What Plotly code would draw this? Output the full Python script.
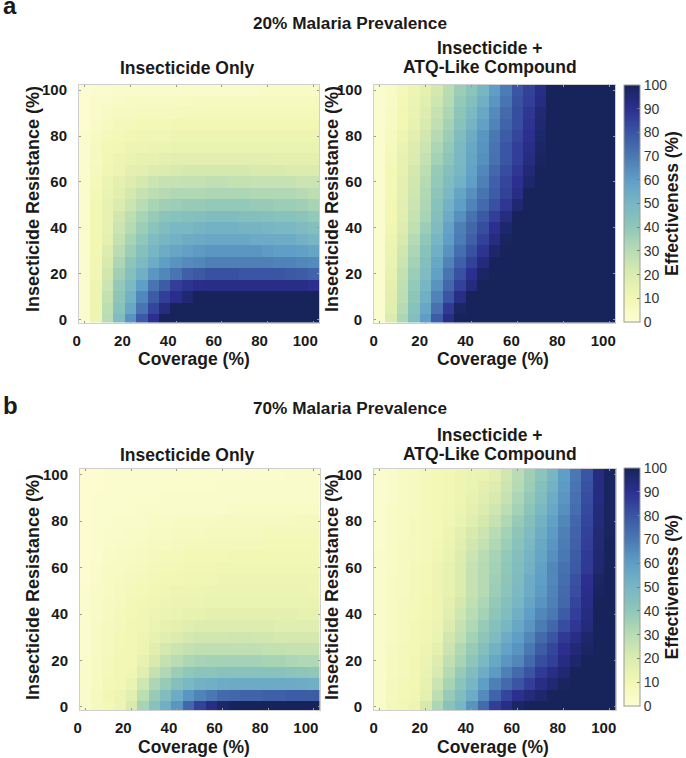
import plotly.graph_objects as go

W, H = 686, 758
coverage = list(range(0, 105, 5))
resistance = list(range(0, 105, 5))
tick_vals = [0, 20, 40, 60, 80, 100]
cbar_ticks = list(range(0, 110, 10))

# rows run from resistance 0 (first) to resistance 100 (last); columns are coverage 0..100
only_20 = [
 [2,12,30,46,63,79,90,100,100,100,100,100,100,100,100,100,100,100,100,100,100],
 [2,12,29,43,56,71,84,93,100,100,100,100,100,100,100,100,100,100,100,100,100],
 [2,12,27,41,52,66,78,86,91,96,100,100,100,100,100,100,100,100,100,100,100],
 [2,12,25,39,48,60,71,78,86,89,91,92,92,92,92,92,92,92,92,92,90],
 [2,11,23,36,44,53,62,66,71,77,79,81,81,81,80,80,80,80,79,78,76],
 [2,11,21,33,41,48,54,60,63,65,66,68,68,68,68,68,68,67,67,66,65],
 [2,10,19,30,37,44,50,54,57,59,61,62,62,62,62,62,61,60,60,59,57],
 [2,10,16,27,34,40,47,50,52,54,55,56,56,56,56,55,55,54,54,52,50],
 [2,10,15,25,31,37,42,46,49,49,51,52,52,52,51,51,50,49,49,47,45],
 [2,10,15,23,29,34,38,42,43,44,45,46,46,46,45,45,44,43,43,42,39],
 [2,10,15,20,25,30,34,36,37,38,38,39,39,39,39,38,38,37,37,36,34],
 [2,9,14,18,22,26,29,31,32,32,32,33,33,33,33,32,32,32,32,31,29],
 [2,8,13,16,19,22,25,26,26,27,27,28,28,27,27,26,26,26,26,25,25],
 [2,7,11,13,16,17,19,20,21,22,22,22,22,22,22,21,21,21,20,20,20],
 [2,6,10,12,14,15,15,16,17,17,17,17,17,17,17,17,17,16,16,16,16],
 [2,6,9,10,12,12,13,13,14,14,14,14,14,14,14,14,14,14,14,14,14],
 [2,5,8,9,10,11,11,11,12,12,12,12,12,12,12,12,12,12,12,12,12],
 [1,4,6,8,8,9,9,9,10,10,10,10,10,10,10,10,10,10,10,10,10],
 [1,3,5,6,6,7,7,7,7,8,8,8,8,8,8,8,8,8,8,8,8],
 [1,3,3,4,5,5,5,5,5,5,6,6,6,6,6,6,6,6,6,6,6],
 [1,2,2,3,3,3,3,3,3,3,3,3,3,3,3,3,4,4,4,4,4],
]
atq_20 = [
 [2,20,33,45,60,78,92,100,100,100,100,100,100,100,100,100,100,100,100,100,100],
 [2,18,31,43,56,72,87,98,100,100,100,100,100,100,100,100,100,100,100,100,100],
 [2,17,29,41,53,67,80,92,100,100,100,100,100,100,100,100,100,100,100,100,100],
 [2,16,28,39,50,63,75,85,94,100,100,100,100,100,100,100,100,100,100,100,100],
 [2,15,27,37,47,59,71,81,90,98,100,100,100,100,100,100,100,100,100,100,100],
 [2,14,25,35,45,56,67,77,85,94,100,100,100,100,100,100,100,100,100,100,100],
 [2,13,23,33,43,53,63,73,81,89,97,100,100,100,100,100,100,100,100,100,100],
 [2,12,21,31,40,50,60,69,77,85,93,99,100,100,100,100,100,100,100,100,100],
 [2,11,19,28,37,47,58,68,75,82,90,97,100,100,100,100,100,100,100,100,100],
 [2,10,18,26,34,45,55,64,72,79,86,93,100,100,100,100,100,100,100,100,100],
 [2,10,17,25,33,43,52,60,67,74,81,88,96,100,100,100,100,100,100,100,100],
 [2,9,16,24,32,41,49,57,64,71,78,85,92,100,100,100,100,100,100,100,100],
 [2,9,16,23,31,39,46,52,60,68,77,84,90,97,100,100,100,100,100,100,100],
 [2,9,15,22,29,38,44,50,58,66,75,82,88,95,100,100,100,100,100,100,100],
 [2,8,15,20,27,35,41,49,57,64,72,80,86,93,99,100,100,100,100,100,100],
 [2,7,14,19,25,33,39,48,56,63,71,80,86,92,98,100,100,100,100,100,100],
 [2,6,12,17,23,31,37,46,54,62,70,78,84,90,97,100,100,100,100,100,100],
 [2,5,10,15,21,28,35,43,51,59,67,76,82,89,96,100,100,100,100,100,100],
 [2,5,10,14,19,26,33,41,48,56,65,74,82,88,95,100,100,100,100,100,100],
 [2,4,9,13,18,24,31,39,45,53,62,71,81,86,93,100,100,100,100,100,100],
 [2,4,8,12,16,22,30,37,42,50,60,69,80,85,92,100,100,100,100,100,100],
]
only_70 = [
 [3,7,9,12,21,34,43,53,62,75,85,92,97,100,100,100,100,100,100,100,100],
 [3,7,10,12,17,29,38,46,54,62,67,70,74,75,76,76,77,77,78,78,78],
 [3,6,9,10,14,24,33,38,45,49,52,53,54,55,55,55,55,55,55,54,53],
 [3,6,8,10,11,18,27,32,37,40,42,42,43,43,43,43,43,43,42,41,40],
 [3,6,8,10,10,15,21,27,30,33,34,35,35,35,35,35,34,34,33,32,32],
 [2,5,7,9,10,12,18,22,25,27,28,28,28,28,28,28,27,27,26,26,26],
 [2,5,7,9,10,12,15,18,20,22,23,23,23,24,24,23,23,22,22,22,22],
 [2,5,7,8,10,11,13,15,16,18,19,19,19,19,19,19,19,18,18,18,18],
 [2,4,6,8,9,11,12,13,14,15,15,16,16,16,16,16,16,16,16,15,15],
 [2,4,6,7,9,10,11,12,13,13,13,14,14,14,14,14,14,14,14,14,14],
 [2,4,5,7,8,9,10,11,12,12,12,13,13,13,13,13,13,13,13,13,12],
 [1,3,5,6,7,8,9,10,10,11,11,11,12,12,12,12,12,12,12,12,12],
 [1,3,5,5,6,7,8,9,9,10,10,10,11,11,11,11,11,11,11,11,11],
 [1,2,4,5,5,6,7,8,8,9,9,9,9,10,10,10,10,10,10,10,10],
 [1,2,3,4,4,5,6,6,7,8,8,8,8,8,8,8,9,9,9,9,9],
 [1,2,3,3,4,4,5,5,6,6,6,7,7,7,7,7,8,8,8,8,8],
 [1,2,2,3,3,3,4,4,5,5,5,5,6,6,6,6,6,6,6,7,7],
 [1,2,2,2,2,3,3,3,3,3,3,3,3,4,4,4,4,4,4,4,4],
 [1,2,2,2,2,2,2,3,3,3,3,3,3,3,3,3,3,3,3,3,3],
 [1,1,2,2,2,2,2,2,2,2,2,2,3,3,3,3,3,3,3,3,3],
 [1,1,2,2,2,2,2,2,2,2,2,2,2,2,2,2,2,2,3,3,3],
]
atq_70 = [
 [3,8,10,12,22,33,43,50,63,74,86,92,98,100,100,100,100,100,100,100,100],
 [3,7,9,11,16,29,38,46,54,65,76,84,90,94,97,100,100,100,100,100,100],
 [3,7,9,10,15,25,34,42,50,60,68,74,80,86,92,96,99,100,100,100,100],
 [3,6,8,10,14,21,31,38,46,54,61,68,74,80,87,92,96,100,100,100,100],
 [3,6,8,10,13,19,28,34,41,49,56,62,66,74,82,86,93,97,100,100,100],
 [3,6,8,9,12,16,25,32,38,45,52,58,63,70,78,84,90,95,98,100,100],
 [3,5,7,9,11,14,23,28,35,41,47,54,60,66,74,80,87,92,97,100,100],
 [3,5,7,9,11,13,20,26,32,38,44,50,56,62,69,75,82,88,94,100,100],
 [3,5,7,8,10,12,18,24,30,35,41,46,53,60,66,70,78,86,93,100,100],
 [3,5,7,8,10,12,16,22,28,33,39,44,50,57,63,68,75,84,92,100,100],
 [3,5,6,8,9,12,15,20,26,31,37,42,48,55,61,67,74,82,91,99,100],
 [3,5,6,8,9,12,15,20,26,31,36,41,47,54,60,66,73,81,90,98,100],
 [3,4,6,8,9,12,15,20,26,31,35,40,46,52,59,66,72,79,87,96,100],
 [3,4,6,7,8,11,14,19,25,30,34,39,45,51,57,64,70,78,87,96,100],
 [2,4,6,7,8,10,13,18,23,27,32,37,43,49,56,62,69,77,86,95,100],
 [2,4,5,7,8,9,12,16,21,25,30,35,41,47,54,61,68,76,85,95,99],
 [2,4,5,7,8,9,11,14,18,22,26,32,38,45,52,59,66,75,84,94,99],
 [2,4,5,6,8,9,11,13,16,20,24,29,35,42,49,56,64,73,83,94,99],
 [2,3,5,6,8,9,10,12,15,18,21,26,33,39,46,54,62,72,82,93,99],
 [2,3,5,6,8,9,10,12,14,16,19,25,31,37,44,52,61,71,81,93,99],
 [2,3,5,6,8,9,10,12,13,14,17,23,30,36,42,50,60,70,80,93,99],
]

scale = [[0.0,"#fdfdd3"],[0.1,"#f2f7b4"],[0.2,"#dcecae"],[0.3,"#b9dcb4"],[0.4,"#8fc7b8"],
         [0.5,"#78b6c4"],[0.6,"#5f9ec6"],[0.7,"#4a78b2"],[0.8,"#3a55a3"],[0.9,"#2c2f8f"],[1.0,"#17245b"]]

FONT = "Liberation Sans, Arial, sans-serif"
INK = "#1a1a1a"

def fx(p): return p / W
def fy(p): return 1 - p / H

# pixel frames: left, right, top, bottom
panels = [
    (only_20, 79.0, 319.0, 84.5, 322.5, "x", "y", -8),
    (atq_20, 374.0, 615.0, 84.5, 322.5, "x2", "y2", -6),
    (only_70, 80.0, 319.5, 469.0, 710.0, "x3", "y3", -8),
    (atq_70, 374.0, 615.5, 469.0, 710.0, "x4", "y4", -6),
]
colorbars = {1: (85.0, 322.0), 3: (468.0, 706.0)}

fig = go.Figure()
layout = {}
for i, (z, l, r, t, b, xa, ya, shift) in enumerate(panels):
    trace = dict(x=coverage, y=resistance, z=z, xaxis=xa, yaxis=ya, zmin=0, zmax=100,
                 colorscale=scale, showscale=False, hoverongaps=False)
    if i in colorbars:
        ct, cb = colorbars[i]
        trace["showscale"] = True
        trace["colorbar"] = dict(
            x=fx(624), xanchor="left", xref="paper", y=fy(cb), yanchor="bottom", yref="paper",
            len=(cb - ct) / H, lenmode="fraction", thickness=15.5, thicknessmode="pixels",
            outlinecolor="#9a9a9a", outlinewidth=1, borderwidth=0, xpad=0, ypad=0,
            tickvals=cbar_ticks, ticks="inside", ticklen=3, tickcolor="#777777", tickwidth=1,
            tickfont=dict(family=FONT, size=14, color="#333333"),
            title=dict(text="Effectiveness (%)", side="right",
                       font=dict(family=FONT, size=17.5, color=INK, weight="bold")),
        )
    fig.add_trace(go.Heatmap(**trace))
    xkey = "xaxis" + xa[1:]
    ykey = "yaxis" + ya[1:]
    axis_common = dict(showgrid=False, zeroline=False, showline=True, linecolor="#cfcfcf", linewidth=1,
                       mirror="ticks", ticks="inside", ticklen=2, tickcolor="#999999", tickwidth=1,
                       tickvals=tick_vals,
                       tickfont=dict(family=FONT, size=15, color=INK, weight="bold"))
    layout[xkey] = dict(domain=[fx(l), fx(r)], range=[-2.5, 102.5], anchor=ya,
                        ticklabelshift=shift, ticklabelstandoff=4, **axis_common)
    layout[ykey] = dict(domain=[fy(b), fy(t)], range=[-1.3, 102.5], anchor=xa,
                        ticklabelshift=0, ticklabelstandoff=8, **axis_common)

def note(text, px, py, size, anchor="center", angle=0):
    fig.add_annotation(text=text, x=fx(px), y=fy(py), xref="paper", yref="paper", showarrow=False,
                       xanchor=anchor, yanchor="middle", textangle=angle,
                       font=dict(family=FONT, size=size, color=INK, weight="bold"))

note("a", 1, 5, 24, "left")
note("b", 1, 405, 24, "left")
note("20% Malaria Prevalence", 349.5, 23, 17.2)
note("70% Malaria Prevalence", 349.5, 408, 17.2)
for row_title_y, row_line1, row_line2 in [(68, 48, 67), (455, 435, 454)]:
    note("Insecticide Only", 186.5, row_title_y, 17.5)
    note("Insecticide +", 490, row_line1, 17.5)
    note("ATQ-Like Compound", 490, row_line2, 17.5)
for cov_y, res_y in [(359, 199), (747, 587)]:
    note("Coverage (%)", 194, cov_y, 17.5)
    note("Coverage (%)", 493, cov_y, 17.5)
    note("Insecticide Resistance (%)", 33, res_y, 18, angle=-90)
    note("Insecticide Resistance (%)", 332, res_y, 18, angle=-90)

fig.update_layout(width=W, height=H, autosize=False,
                  margin=dict(l=0, r=0, t=0, b=0, pad=0, autoexpand=False),
                  paper_bgcolor="white", plot_bgcolor="white", showlegend=False, **layout)
fig.write_html("out.html", config={"displayModeBar": False, "responsive": False},
               post_script="document.body.style.margin='0';document.documentElement.style.overflow='hidden';")
